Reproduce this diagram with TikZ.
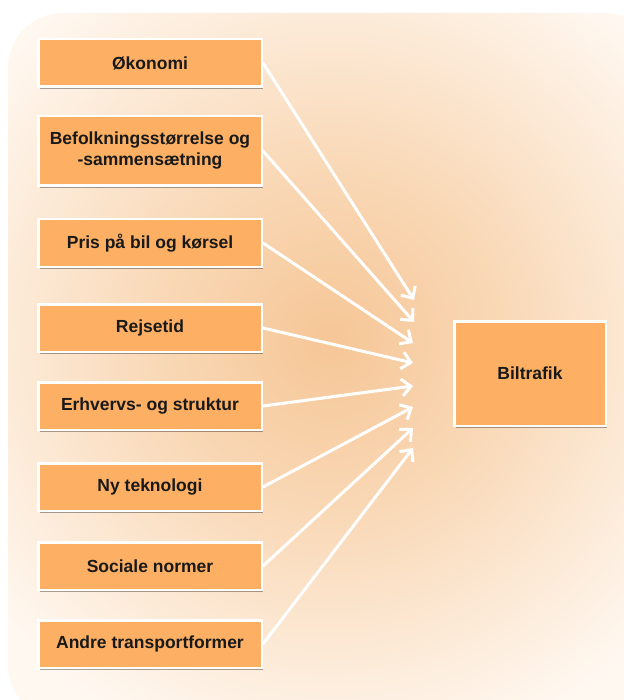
\documentclass[tikz,border=0pt]{standalone}
\usepackage{fontspec}
\setmainfont{Liberation Sans}
\usetikzlibrary{arrows.meta,shadows}
\definecolor{boxfill}{RGB}{253,176,100}
\definecolor{bgin}{RGB}{246,198,150}
\definecolor{bgmid}{RGB}{249,216,182}
\definecolor{bgout}{RGB}{255,248,241}
\pgfdeclareradialshading{bgshade}{\pgfpoint{0bp}{0bp}}{color(0bp)=(bgin); color(10bp)=(bgmid); color(25bp)=(bgout); color(50bp)=(bgout)}
\begin{document}
\begin{tikzpicture}[x=1pt,y=-1pt,
  factor/.style={draw=white, line width=2.5pt, fill=boxfill,
    minimum width=223.5pt, minimum height=47.5pt, inner sep=2pt, align=center,
    font=\fontsize{17.5}{21}\selectfont\bfseries, text=black!90,
    drop shadow={shadow xshift=1.5pt, shadow yshift=-2.5pt, opacity=0.35, fill=black}},
  link/.style={draw=white, line width=3pt, line cap=round,
    -{Straight Barb[length=9pt,width=17pt,line width=3pt]}}]
\useasboundingbox (0,0) rectangle (623,700);
\fill[white] (0,0) rectangle (623,700);
\begin{scope}
  \clip[rounded corners=55pt] (8,13) rectangle (660,720);
  \fill[bgout] (0,0) rectangle (660,720);
  \shade[shading=bgshade] (330,340) circle (430pt);
\end{scope}

\node[factor] (n1) at (150,63) {Økonomi};
\node[factor, minimum height=69.5pt] (n2) at (150,151) {Befolkningsstørrelse og\\-sammensætning};
\node[factor] (n3) at (150,243) {Pris på bil og kørsel};
\node[factor] (n4) at (150,328) {Rejsetid};
\node[factor] (n5) at (150,406) {Erhvervs- og struktur};
\node[factor] (n6) at (150,487) {Ny teknologi};
\node[factor] (n7) at (150,566) {Sociale normer};
\node[factor] (n8) at (150,644) {Andre transportformer};
\node[factor, minimum width=151.5pt, minimum height=104.5pt] (b) at (530,373.5) {Biltrafik};

\coordinate (t1) at (414,300);
\coordinate (t2) at (414,322);
\coordinate (t3) at (413,343);
\coordinate (t4) at (413,363);
\coordinate (t5) at (413,386);
\coordinate (t6) at (413,407);
\coordinate (t7) at (413,428);
\coordinate (t8) at (413,448);

\draw[link] (n1.east) -- (t1);
\draw[link] (n2.east) -- (t2);
\draw[link] (n3.east) -- (t3);
\draw[link] (n4.east) -- (t4);
\draw[link] (n5.east) -- (t5);
\draw[link] (n6.east) -- (t6);
\draw[link] (n7.east) -- (t7);
\draw[link] (n8.east) -- (t8);
\end{tikzpicture}
\end{document}
